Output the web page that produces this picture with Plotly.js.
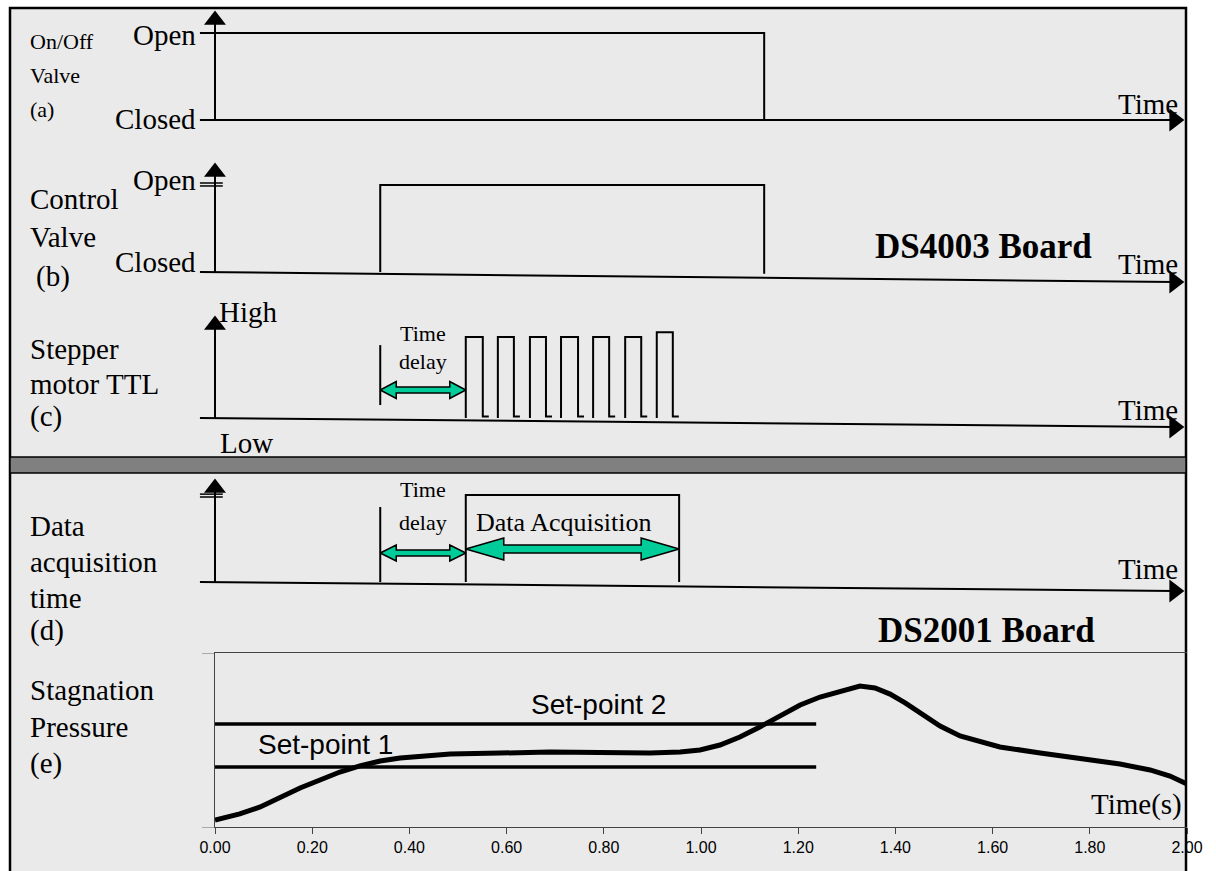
<!DOCTYPE html>
<html>
<head>
<meta charset="utf-8">
<script src="https://cdn.plot.ly/plotly-3.0.1.min.js"></script>
<style>html,body{margin:0;padding:0;background:#fff;}#chart{width:1216px;height:871px;}</style>
</head>
<body>
<div id="chart"></div>
<script>
// ---------------- DATA (times in seconds) ----------------
const onOffValveT   = [0.00, 1.13];          // (a) open, close
const controlValveT = [0.34, 1.13];          // (b) open, close
const stepperDelayT = [0.34, 0.516];         // (c) time delay start, first pulse
const pulseRiseT = [0.516, 0.582, 0.648, 0.712, 0.778, 0.844, 0.909];
const pulseFallT = [0.551, 0.615, 0.681, 0.747, 0.811, 0.877, 0.942];
const pulseHigh  = [1, 1, 1, 1, 1, 1, 1.06];
const acqDelayT  = [0.34, 0.516];            // (d) time delay
const dataAcqT   = [0.516, 0.955];           // (d) data acquisition window

const pressureT = [0.000,0.051,0.093,0.134,0.175,0.216,0.257,0.298,0.340,0.381,0.422,0.484,0.586,0.689,0.792,0.895,0.957,0.998,1.039,1.080,1.121,1.163,1.204,1.245,1.286,1.327,1.358,1.389,1.420,1.451,1.492,1.533,1.574,1.615,1.698,1.780,1.862,1.924,1.965,2.000];
const pressureV = [0.040,0.075,0.115,0.172,0.224,0.270,0.316,0.351,0.379,0.397,0.408,0.420,0.425,0.431,0.428,0.425,0.431,0.443,0.471,0.517,0.575,0.638,0.701,0.747,0.782,0.810,0.799,0.764,0.713,0.655,0.580,0.523,0.489,0.460,0.425,0.391,0.362,0.328,0.293,0.247];
const setPoint1 = 0.345;
const setPoint2 = 0.592;
const setPointEndT = 1.237;

const xTickVals = [0,0.2,0.4,0.6,0.8,1.0,1.2,1.4,1.6,1.8,2.0];
const xTickText = ['0.00','0.20','0.40','0.60','0.80','1.00','1.20','1.40','1.60','1.80','2.00'];

// ---------------- LAYOUT HELPERS ----------------
const W = 1216, H = 871;
const PXS = 486, X0PX = 215;            // px per second, px of t=0
const xRange = [-X0PX/PXS, (W - X0PX)/PXS];
function yr(base, unit){ return [(base - H)/unit, base/unit]; }
const AX_START = -0.031, AX_END = 1.974;
const SERIF = 'Liberation Serif, Times New Roman, serif';
const SANS = 'Liberation Sans, Arial, sans-serif';
const GREEN = '#00CC99';

const panels = {
  a: {ax:'y',  base:120, unit:87, slant:0,      top:1.149},
  b: {ax:'y2', base:272, unit:87, slant:-0.115, top:1.149},
  c: {ax:'y3', base:418, unit:81, slant:-0.111, top:1.148},
  d: {ax:'y4', base:582, unit:87, slant:-0.103, top:1.080}
};

const traces = [];
function line(xs, ys, yaxis, width, color, xaxis){
  traces.push({type:'scatter', mode:'lines', x:xs, y:ys, xaxis:xaxis||'x', yaxis:yaxis,
    line:{color:color||'#000', width:width||2}, hoverinfo:'skip', showlegend:false, connectgaps:false});
}
function marker(xs, ys, yaxis, symbol, size){
  traces.push({type:'scatter', mode:'markers', x:xs, y:ys, xaxis:'x', yaxis:yaxis,
    marker:{symbol:symbol, size:size, color:'#000', line:{width:0}}, hoverinfo:'skip', showlegend:false});
}
function dblArrow(t1, t2, v, p, halfShaft, halfHead, headLen){
  const hl = headLen/PXS, s = halfShaft/p.unit, h = halfHead/p.unit;
  traces.push({type:'scatter', mode:'lines', fill:'toself', fillcolor:GREEN,
    x:[t1, t1+hl, t1+hl, t2-hl, t2-hl, t2, t2-hl, t2-hl, t1+hl, t1+hl, t1],
    y:[v, v+h, v+s, v+s, v+h, v, v-h, v-s, v-s, v-h, v],
    xaxis:'x', yaxis:p.ax, line:{color:'#000', width:1.5}, hoverinfo:'skip', showlegend:false});
}

// axes of the schematic panels
Object.keys(panels).forEach(k => {
  const p = panels[k];
  line([AX_START, AX_END], [0, p.slant], p.ax, 2);
  marker([AX_END], [p.slant], p.ax, 'triangle-right', 20);
  line([0, 0], [0, p.top], p.ax, 2);
  marker([0], [p.top], p.ax, 'triangle-up', 19);
});
// double ticks at the top level in (b) and (d)
line([AX_START, 0.016], [1.023, 1.023], 'y2', 1.5);
line([AX_START, 0.016], [0.989, 0.989], 'y2', 1.5);
line([AX_START, 0.016], [1.010, 1.010], 'y4', 1.5);
line([AX_START, 0.016], [0.977, 0.977], 'y4', 1.5);

// (a) on/off valve
line([AX_START, onOffValveT[1], onOffValveT[1]], [1, 1, 0], 'y', 2);
// (b) control valve
line([controlValveT[0], controlValveT[0], controlValveT[1], controlValveT[1]], [0, 1, 1, -0.02], 'y2', 2);
// (c) stepper pulses
(function(){
  const xs = [], ys = [];
  const foot = 6/PXS;
  for (let i = 0; i < pulseRiseT.length; i++){
    xs.push(pulseRiseT[i], pulseRiseT[i], pulseFallT[i], pulseFallT[i], pulseFallT[i] + foot, null);
    ys.push(0, pulseHigh[i], pulseHigh[i], 0.02, 0.02, null);
  }
  line(xs, ys, 'y3', 2);
})();
line([stepperDelayT[0], stepperDelayT[0]], [0.16, 0.90], 'y3', 2);
dblArrow(stepperDelayT[0], stepperDelayT[1], 0.346, panels.c, 3, 8.5, 16);
// (d) data acquisition
line([acqDelayT[0], acqDelayT[0]], [0, 0.862], 'y4', 2);
line([dataAcqT[0], dataAcqT[0], dataAcqT[1], dataAcqT[1]], [0, 1, 1, 0], 'y4', 2);
dblArrow(acqDelayT[0], acqDelayT[1], 0.333, panels.d, 3, 8, 16);
dblArrow(dataAcqT[0], dataAcqT[1], 0.379, panels.d, 4, 11, 38);

// (e) stagnation pressure
line([0, setPointEndT], [setPoint2, setPoint2], 'y5', 3.5, '#000', 'x2');
line([0, setPointEndT], [setPoint1, setPoint1], 'y5', 3.5, '#000', 'x2');
line(pressureT, pressureV, 'y5', 5, '#000', 'x2');

// ---------------- ANNOTATIONS ----------------
const anns = [];
function ann(text, x, y, o){
  o = o || {};
  anns.push({text:text, xref:'paper', yref:'paper', x:x/W, y:1 - y/H, showarrow:false,
    xanchor:o.xanchor || 'left', yanchor:'middle',
    font:{family:o.family || SERIF, size:o.size || 29, color:'#000', weight:o.weight || 'normal'}});
}
// (a)
ann('On/Off', 28, 42, {size:22}); ann('Valve', 28, 76, {size:22}); ann('(a)', 28, 110, {size:22});
ann('Open', 198, 35, {xanchor:'right'}); ann('Closed', 198, 119, {xanchor:'right'});
ann('Time', 1180, 104, {xanchor:'right'});
// (b)
ann('Control', 28, 199); ann('Open', 198, 180, {xanchor:'right'});
ann('Valve', 28, 237); ann('Closed', 198, 262, {xanchor:'right'}); ann('(b)', 34, 277);
ann('DS4003 Board', 983, 246, {xanchor:'center', size:35, weight:'bold'});
ann('Time', 1180, 264, {xanchor:'right'});
// (c)
ann('High', 217, 312); ann('Stepper', 28, 349); ann('motor TTL', 28, 384); ann('(c)', 28, 416);
ann('Low', 218, 443);
ann('Time', 423, 333, {xanchor:'center', size:22}); ann('delay', 423, 362, {xanchor:'center', size:22});
ann('Time', 1180, 410, {xanchor:'right'});
// (d)
ann('Data', 28, 526); ann('acquisition', 28, 562); ann('time', 28, 598); ann('(d)', 28, 630);
ann('Time', 423, 490, {xanchor:'center', size:22}); ann('delay', 423, 522, {xanchor:'center', size:22});
ann('Data Acquisition', 474, 522, {size:26});
ann('Time', 1180, 569, {xanchor:'right'});
ann('DS2001 Board', 986, 630, {xanchor:'center', size:35, weight:'bold'});
// (e)
ann('Stagnation', 28, 690); ann('Pressure', 28, 727); ann('(e)', 28, 763);
ann('Set-point 2', 598, 704, {xanchor:'center', family:SANS, size:28});
ann('Set-point 1', 256, 744, {family:SANS, size:28});
ann('Time(s)', 1184, 804, {xanchor:'right'});

// ---------------- SHAPES ----------------
const shapes = [
  {type:'rect', xref:'paper', yref:'paper', x0:10/W, x1:1186/W, y0:-0.02, y1:1 - 8/H,
   fillcolor:'#EAEAEA', line:{color:'#000', width:2.5}, layer:'below'},
  {type:'rect', xref:'paper', yref:'paper', x0:10/W, x1:1186/W, y0:1 - 473/H, y1:1 - 457/H,
   fillcolor:'#808080', line:{color:'#000', width:1.5}, layer:'below'}
];

const hidden = {visible:false, fixedrange:true, showgrid:false, zeroline:false};
const layout = {
  width:W, height:H, margin:{l:0, r:0, t:0, b:0},
  paper_bgcolor:'#ffffff', plot_bgcolor:'rgba(0,0,0,0)', showlegend:false,
  xaxis: Object.assign({domain:[0,1], range:xRange}, hidden),
  yaxis: Object.assign({domain:[0,1], range:yr(panels.a.base, panels.a.unit)}, hidden),
  yaxis2: Object.assign({overlaying:'y', range:yr(panels.b.base, panels.b.unit)}, hidden),
  yaxis3: Object.assign({overlaying:'y', range:yr(panels.c.base, panels.c.unit)}, hidden),
  yaxis4: Object.assign({overlaying:'y', range:yr(panels.d.base, panels.d.unit)}, hidden),
  xaxis2: {domain:[215/W, 1187/W], range:[0,2], anchor:'y5', fixedrange:true,
    tickvals:xTickVals, ticktext:xTickText, ticks:'outside', ticklen:6, tickcolor:'#444', tickwidth:1,
    showline:true, linecolor:'#444', linewidth:1, mirror:true, showgrid:false, zeroline:false,
    tickfont:{family:SANS, size:16, color:'#000'}},
  yaxis5: {domain:[44/H, 218/H], range:[0,1], anchor:'x2', fixedrange:true,
    tickvals:[0,1], showticklabels:false, ticks:'outside', ticklen:12, tickcolor:'#aaa',
    showline:true, linecolor:'#444', linewidth:1, showgrid:false, zeroline:false},
  shapes:shapes, annotations:anns
};

Plotly.newPlot('chart', traces, layout, {displayModeBar:false, staticPlot:true});
</script>
</body>
</html>
